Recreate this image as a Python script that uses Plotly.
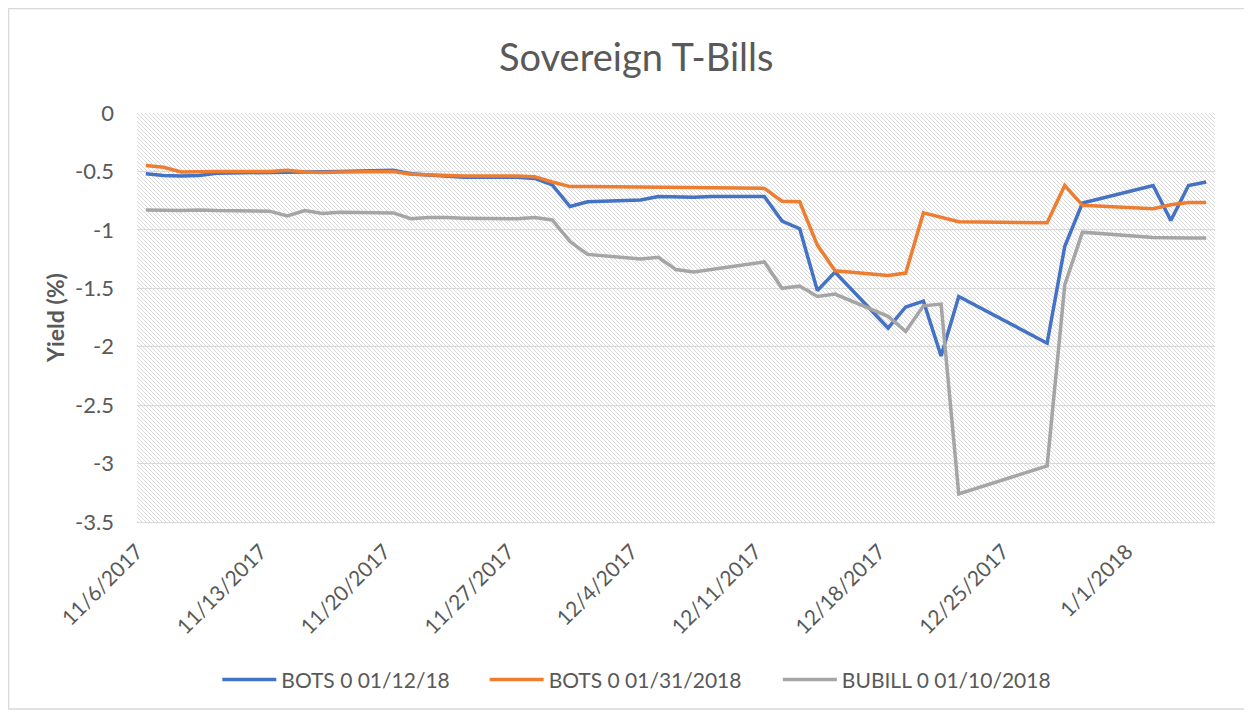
import base64
import pandas as pd
import plotly.graph_objects as go

# Datos -----------------------------
fechas = ["2017-11-06", "2017-11-07", "2017-11-08", "2017-11-09", "2017-11-10",
          "2017-11-13", "2017-11-14", "2017-11-15", "2017-11-16", "2017-11-17",
          "2017-11-20", "2017-11-21", "2017-11-22", "2017-11-23", "2017-11-24",
          "2017-11-27", "2017-11-28", "2017-11-29", "2017-11-30", "2017-12-01",
          "2017-12-04", "2017-12-05", "2017-12-06", "2017-12-07", "2017-12-08",
          "2017-12-11", "2017-12-12", "2017-12-13", "2017-12-14", "2017-12-15",
          "2017-12-18", "2017-12-19", "2017-12-20", "2017-12-21", "2017-12-22",
          "2017-12-27", "2017-12-28", "2017-12-29",
          "2018-01-02", "2018-01-03", "2018-01-04", "2018-01-05"]

bots_0112 = [-0.52, -0.535, -0.54, -0.535, -0.515,
             -0.51, -0.51, -0.51, -0.505, -0.50,
             -0.49, -0.52, -0.53, -0.54, -0.55,
             -0.55, -0.56, -0.615, -0.80, -0.76,
             -0.745, -0.715, -0.72, -0.72, -0.715,
             -0.715, -0.925, -0.99, -1.52, -1.36,
             -1.84, -1.66, -1.61, -2.08, -1.57,
             -1.97, -1.14, -0.77,
             -0.62, -0.92, -0.62, -0.59]

bots_0131 = [-0.45, -0.465, -0.505, -0.50, -0.50,
             -0.50, -0.49, -0.505, -0.51, -0.505,
             -0.50, -0.525, -0.53, -0.535, -0.54,
             -0.54, -0.545, -0.59, -0.63, -0.63,
             -0.635, -0.635, -0.64, -0.64, -0.64,
             -0.645, -0.755, -0.76, -1.13, -1.35,
             -1.39, -1.37, -0.855, -0.89, -0.93,
             -0.94, -0.62, -0.79,
             -0.82, -0.785, -0.765, -0.765]

bubill_0110 = [-0.83, -0.835, -0.835, -0.83, -0.835,
               -0.84, -0.88, -0.835, -0.86, -0.85,
               -0.855, -0.905, -0.895, -0.895, -0.90,
               -0.905, -0.895, -0.915, -1.10, -1.21,
               -1.25, -1.235, -1.34, -1.36, -1.34,
               -1.275, -1.50, -1.48, -1.57, -1.55,
               -1.74, -1.87, -1.65, -1.635, -3.26,
               -3.02, -1.47, -1.02,
               -1.065, -1.07, -1.07, -1.07]

# Etiquetas del eje Y (con guion normal, como en Excel)
y_ticks = [0, -0.5, -1, -1.5, -2, -2.5, -3, -3.5]
y_labels = ["0", "-0.5", "-1", "-1.5", "-2", "-2.5", "-3", "-3.5"]

series = [("BOTS 0 01/12/18", bots_0112, "#4472C4"),
          ("BOTS 0 01/31/2018", bots_0131, "#ED7D31"),
          ("BUBILL 0 01/10/2018", bubill_0110, "#A5A5A5")]

# Posicion horizontal (paper) de cada leyenda, una por serie
legend_x = [0.0745, 0.3225, 0.5945]
legend_ids = ["legend", "legend2", "legend3"]

# Excel centra cada punto en su dia (entre marcas)
x_fechas = pd.to_datetime(fechas) + pd.Timedelta(hours=12)

fig = go.Figure()
for (nombre, valores, color), ley in zip(series, legend_ids):
    fig.add_trace(go.Scatter(x=x_fechas, y=valores, name=nombre, mode="lines",
                             line=dict(color=color, width=3.5), legend=ley))

# Fondo rayado del area de trazado (patron diagonal)
svg = ("<svg xmlns='http://www.w3.org/2000/svg' width='1078' height='409'>"
       "<defs><pattern id='h' width='4' height='4' patternUnits='userSpaceOnUse'>"
       "<path d='M-1,-1 L5,5' stroke='#dadada' stroke-width='1'/></pattern></defs>"
       "<rect width='100%' height='100%' fill='url(#h)'/></svg>")
fondo = "data:image/svg+xml;base64," + base64.b64encode(svg.encode()).decode()

gris_texto = "#595959"
fuente = "Lato"
semana = 7 * 24 * 3600 * 1000

# La pagina tiene 8px de margen en el body: el tamano se reduce en 8px
fig.update_layout(
    width=1244, height=706,
    margin=dict(l=129, r=37, t=105, b=192),
    paper_bgcolor="white", plot_bgcolor="rgba(0,0,0,0)",
    font=dict(family=fuente, color=gris_texto, size=21),
    title=dict(text="Sovereign T-Bills", x=0.505, xanchor="center", y=0.93, yanchor="middle",
               font=dict(size=38, color=gris_texto, family=fuente)),
    showlegend=True,
    images=[dict(source=fondo, xref="paper", yref="paper", x=0, y=1, sizex=1, sizey=1,
                 sizing="stretch", layer="below")],
    shapes=[dict(type="rect", xref="paper", yref="paper", x0=-0.1192, x1=1.0288,
                 y0=-0.457, y1=1.2555, line=dict(color="#d9d9d9", width=1.5))],
)

for ley, lx in zip(legend_ids, legend_x):
    fig.update_layout({ley: dict(orientation="h", x=lx, xanchor="left", y=-0.386,
                                 yanchor="middle", itemwidth=54,
                                 font=dict(size=21, color=gris_texto),
                                 bgcolor="rgba(0,0,0,0)")})

fig.update_xaxes(type="date", range=["2017-11-06", "2018-01-06"],
                 tick0="2017-11-06", dtick=semana, tickformat="%-m/%-d/%Y",
                 tickangle=-45, ticks="", showgrid=False, zeroline=False,
                 showline=True, linecolor="#d9d9d9", linewidth=1,
                 ticklabelstandoff=8, tickfont=dict(size=21, color=gris_texto))

# Eje superior solo para las marcas de semana y la linea del cero
fig.update_layout(xaxis2=dict(type="date", overlaying="x", side="top", anchor="y",
                              range=["2017-11-06", "2018-01-06"], tick0="2017-11-06",
                              dtick=semana, showticklabels=False,
                              ticks="outside", ticklen=6, tickcolor="#d9d9d9",
                              showline=True, linecolor="#bfbfbf", linewidth=1.5,
                              showgrid=False, zeroline=False))

fig.update_yaxes(range=[-3.5, 0], tickvals=y_ticks, ticktext=y_labels,
                 showgrid=True, gridcolor="#d9d9d9",
                 gridwidth=1, zeroline=False, ticks="", ticklabelstandoff=22,
                 tickfont=dict(size=22, color=gris_texto),
                 title=dict(text="<b>Yield (%)</b>", standoff=4,
                            font=dict(size=23, color=gris_texto, family=fuente)))

fig.write_html("out.html")
